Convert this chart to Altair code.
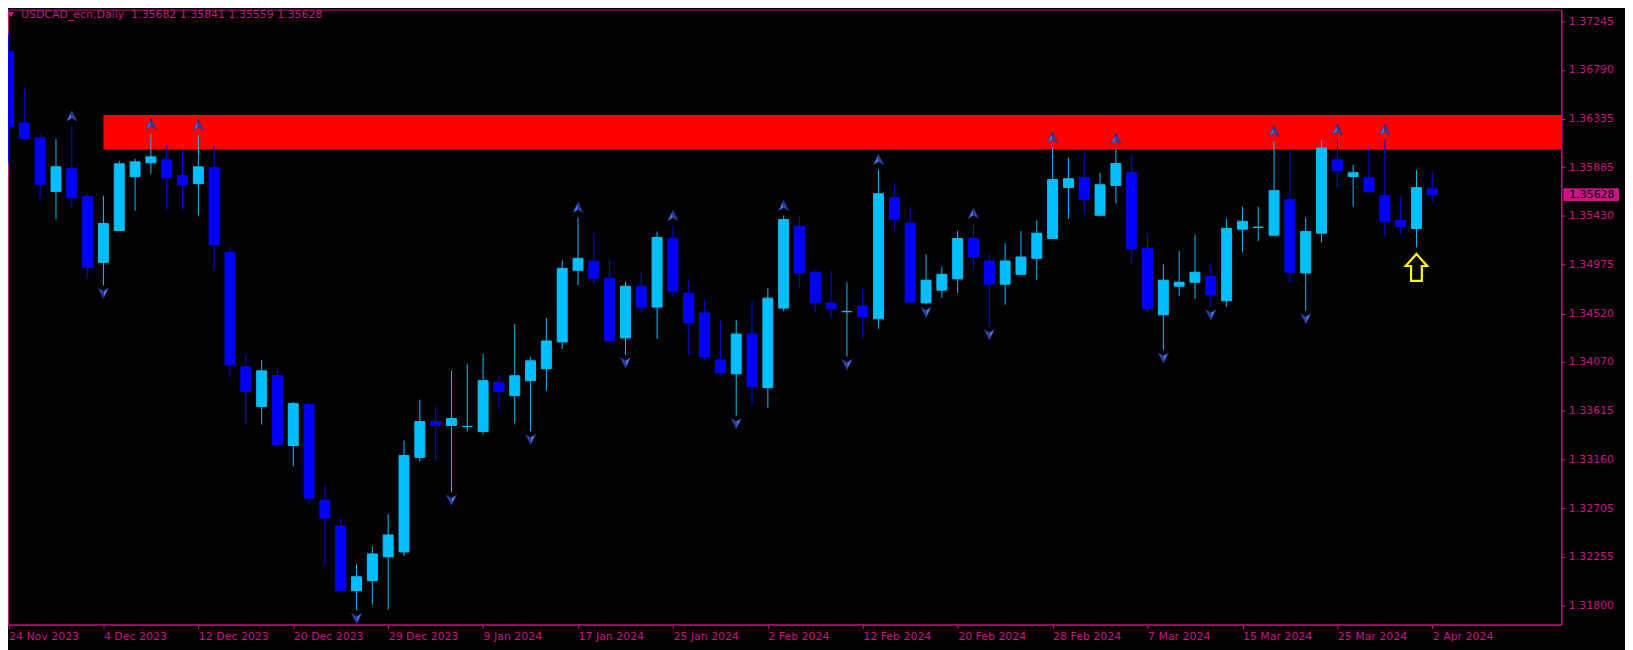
import json
import altair as alt
import pandas as pd

symbol = "USDCAD_ecn"
timeframe = "Daily"

tick_labels = ["24 Nov 2023", "4 Dec 2023", "12 Dec 2023", "20 Dec 2023", "29 Dec 2023",
               "9 Jan 2024", "17 Jan 2024", "25 Jan 2024", "2 Feb 2024", "12 Feb 2024",
               "20 Feb 2024", "28 Feb 2024", "7 Mar 2024", "15 Mar 2024", "25 Mar 2024",
               "2 Apr 2024"]
tick_every = 6

price_ticks = [1.31800, 1.32255, 1.32705, 1.33160, 1.33615, 1.34070, 1.34520,
               1.34975, 1.35430, 1.35885, 1.36335, 1.36790, 1.37245]

opens = [1.36962, 1.36295, 1.36156, 1.35658, 1.35869, 1.35609, 1.34997, 1.35294, 1.35795, 1.35924,
         1.35952, 1.35804, 1.35730, 1.35878, 1.35090, 1.34024, 1.33654, 1.33941, 1.33292, 1.33672,
         1.32782, 1.32541, 1.31939, 1.32032, 1.32254, 1.32300, 1.33181, 1.33515, 1.33478, 1.33468,
         1.33422, 1.33876, 1.33756, 1.33895, 1.34006, 1.34256, 1.34923, 1.35007, 1.34849, 1.34293,
         1.34775, 1.34580, 1.35220, 1.34710, 1.34525, 1.34089, 1.33959, 1.34330, 1.33830, 1.34571,
         1.35331, 1.34905, 1.34617, 1.34537, 1.34590, 1.34472, 1.35600, 1.35362, 1.34620, 1.34738,
         1.34843, 1.35220, 1.35010, 1.34794, 1.34886, 1.35035, 1.35220, 1.35695, 1.35788, 1.35436,
         1.35714, 1.35832, 1.35127, 1.34509, 1.34775, 1.34812, 1.34868, 1.34639, 1.35306, 1.35323,
         1.35250, 1.35581, 1.34898, 1.35269, 1.35952, 1.35797, 1.35785, 1.35618, 1.35387, 1.35313,
         1.35682]
highs = [1.37120, 1.36613, 1.36193, 1.36147, 1.36267, 1.35637, 1.35618, 1.35943, 1.35961, 1.36193,
         1.36091, 1.36045, 1.36184, 1.36082, 1.35146, 1.34145, 1.34089, 1.33997, 1.33700, 1.33691,
         1.32921, 1.32616, 1.32189, 1.32347, 1.32653, 1.33339, 1.33718, 1.33654, 1.33987, 1.34052,
         1.34145, 1.33941, 1.34423, 1.34117, 1.34478, 1.35016, 1.35415, 1.35266, 1.35016, 1.34821,
         1.34914, 1.35285, 1.35340, 1.34831, 1.34645, 1.34460, 1.34460, 1.34636, 1.34756, 1.35433,
         1.35433, 1.34923, 1.34923, 1.34812, 1.34750, 1.35862, 1.35720, 1.35516, 1.35072, 1.34960,
         1.35294, 1.35362, 1.35072, 1.35176, 1.35288, 1.35387, 1.36066, 1.35973, 1.36017, 1.35832,
         1.36054, 1.35998, 1.35257, 1.34979, 1.35102, 1.35257, 1.34979, 1.35405, 1.35516, 1.35516,
         1.36128, 1.36048, 1.35415, 1.36140, 1.36140, 1.35906, 1.36073, 1.36140, 1.35609, 1.35859,
         1.35841]
lows = [1.35924, 1.36133, 1.35593, 1.35399, 1.35507, 1.34858, 1.34784, 1.35290, 1.35479, 1.35822,
        1.35489, 1.35489, 1.35433, 1.34933, 1.33932, 1.33487, 1.33487, 1.33295, 1.33098, 1.32745,
        1.32171, 1.31930, 1.31754, 1.31809, 1.31763, 1.32263, 1.33144, 1.33153, 1.32857, 1.33422,
        1.33394, 1.33635, 1.33496, 1.33422, 1.33802, 1.34191, 1.34784, 1.34794, 1.34260, 1.34136,
        1.34525, 1.34284, 1.34673, 1.34126, 1.34080, 1.33941, 1.33570, 1.33663, 1.33644, 1.34543,
        1.34750, 1.34537, 1.34472, 1.34120, 1.34287, 1.34379, 1.35294, 1.34620, 1.34605, 1.34667,
        1.34713, 1.34923, 1.34398, 1.34602, 1.34880, 1.34831, 1.35215, 1.35399, 1.35442, 1.35430,
        1.35547, 1.34979, 1.34534, 1.34182, 1.34682, 1.34657, 1.34583, 1.34583, 1.35090, 1.35195,
        1.35245, 1.34806, 1.34546, 1.35186, 1.35695, 1.35516, 1.35640, 1.35238, 1.35257, 1.35136,
        1.35559]
closes = [1.36258, 1.36150, 1.35725, 1.35887, 1.35600, 1.34951, 1.35359, 1.35915, 1.35934, 1.35980,
          1.35785, 1.35720, 1.35887, 1.35164, 1.34043, 1.33793, 1.33987, 1.33301, 1.33681, 1.32801,
          1.32616, 1.31939, 1.32069, 1.32282, 1.32458, 1.33199, 1.33515, 1.33478, 1.33542, 1.33470,
          1.33895, 1.33793, 1.33941, 1.34080, 1.34265, 1.34942, 1.35035, 1.34849, 1.34265, 1.34775,
          1.34580, 1.35229, 1.34729, 1.34432, 1.34117, 1.33969, 1.34330, 1.33839, 1.34664, 1.35396,
          1.34898, 1.34620, 1.34565, 1.34540, 1.34490, 1.35637, 1.35399, 1.34627, 1.34831, 1.34886,
          1.35220, 1.35047, 1.34794, 1.35010, 1.35047, 1.35269, 1.35769, 1.35776, 1.35584, 1.35720,
          1.35918, 1.35121, 1.34565, 1.34831, 1.34812, 1.34905, 1.34694, 1.35313, 1.35380, 1.35325,
          1.35665, 1.34905, 1.35285, 1.36063, 1.35850, 1.35832, 1.35658, 1.35380, 1.35331, 1.35693,
          1.35628]

up_fractals = [4, 9, 12, 36, 42, 49, 55, 61, 66, 70, 80, 84, 87]
down_fractals = [6, 22, 28, 33, 39, 46, 53, 58, 62, 73, 76, 82]
signal_bars = [89]

zone_start = 6
zone_low = 1.36048
zone_high = 1.36369

MAG = "#C71585"
BULL = "#00BFFF"
BEAR = "#0000FF"
FONT = "DejaVu Sans"
FS = 11
W, H = 1561, 618

n = len(opens)
df = pd.DataFrame({"i": list(range(n)), "open": opens, "high": highs, "low": lows, "close": closes})
df["col"] = [BULL if c >= o else BEAR for o, c in zip(opens, closes)]

xscale = alt.Scale(domain=[0.28125, 97.84375], nice=False, zero=False)
yscale = alt.Scale(domain=[1.316239, 1.373516], nice=False, zero=False)

label_expr = json.dumps(tick_labels) + "[round(datum.value/" + str(tick_every) + ")]"
xaxis = alt.Axis(values=list(range(0, tick_every * len(tick_labels), tick_every)), labelExpr=label_expr,
                 title=None, grid=False, domainColor=MAG, tickColor=MAG, tickSize=4,
                 labelColor=MAG, labelFont=FONT, labelFontSize=FS, labelAlign="left",
                 labelBaseline="top", labelPadding=2, labelOverlap=False, labelBound=False,
                 labelFlush=False)
yaxis = alt.Axis(values=price_ticks, format=".5f", orient="right", title=None, grid=False,
                 domainColor=MAG, tickColor=MAG, tickSize=4, labelColor=MAG, labelFont=FONT,
                 labelFontSize=FS, labelAlign="left", labelBaseline="middle", labelPadding=3,
                 labelOverlap=False, labelBound=False, labelFlush=False)


def X(field):
    return alt.X(field, scale=xscale, axis=xaxis)


def Y(field):
    return alt.Y(field, scale=yscale, axis=yaxis)


base = alt.Chart(df)

zone_df = pd.DataFrame({"x": [zone_start], "lo": [zone_low], "hi": [zone_high]})
zone = alt.Chart(zone_df).mark_rect(color="#FF0000", clip=True).encode(
    x=X("x:Q"),
    x2=alt.value(W),
    y=Y("lo:Q"),
    y2="hi:Q",
)

wicks = base.mark_rule(strokeWidth=1, clip=True).encode(
    x=X("i:Q"),
    y=Y("low:Q"),
    y2="high:Q",
    color=alt.Color("col:N", scale=None),
)

bodies = base.mark_bar(size=10, strokeWidth=1, clip=True).encode(
    x=X("i:Q"),
    y=Y("open:Q"),
    y2="close:Q",
    color=alt.Color("col:N", scale=None),
    stroke=alt.Stroke("col:N", scale=None),
)

up_df = df[df["i"].isin(up_fractals)]
dn_df = df[df["i"].isin(down_fractals)]
sig_df = df[df["i"].isin(signal_bars)]


def arrow(data, field, path, fill, offset):
    return alt.Chart(data).mark_point(shape=path, size=110, filled=True, fill=fill,
                                      stroke="#1b2a6e", strokeWidth=0.6, opacity=1,
                                      yOffset=offset, clip=True).encode(
        x=X("i:Q"),
        y=Y(field + ":Q"),
    )


up_l = arrow(up_df, "high", "M0,-1L0,0.4L-1,1Z", "#4a78f0", -10)
up_r = arrow(up_df, "high", "M0,-1L1,1L0,0.4Z", "#2b44b0", -10)
dn_l = arrow(dn_df, "low", "M0,1L0,-0.4L-1,-1Z", "#2b44b0", 8)
dn_r = arrow(dn_df, "low", "M0,1L1,-1L0,-0.4Z", "#4a78f0", 8)

signal = alt.Chart(sig_df).mark_point(
    shape="M0,-1L0.8,-0.1L0.4,-0.1L0.4,1L-0.4,1L-0.4,-0.1L-0.8,-0.1Z",
    size=729, filled=False, stroke="#FFFF00", strokeWidth=2.2, opacity=1, yOffset=20,
    clip=True).encode(
    x=X("i:Q"),
    y=Y("low:Q"),
)

last = df.iloc[[-1]]
header = (symbol + "," + timeframe + "\u00a0\u00a0" +
          " ".join(f"{v:.5f}" for v in [opens[-1], highs[-1], lows[-1], closes[-1]]))
head_df = pd.DataFrame({"t": [header]})
head_text = alt.Chart(head_df).mark_text(align="left", baseline="middle", color=MAG,
                                         font=FONT, fontSize=FS).encode(
    x=alt.value(13), y=alt.value(5), text="t:N")
head_tri = alt.Chart(head_df).mark_point(shape="triangle-down", filled=True, color=MAG,
                                         size=36, opacity=1).encode(
    x=alt.value(3), y=alt.value(5))

price_box = alt.Chart(last).mark_rule(color=MAG, strokeWidth=13, strokeCap="butt").encode(
    x=alt.value(W + 2), x2=alt.value(W + 58),
    y=Y("close:Q"),
)
price_txt = alt.Chart(last).mark_text(align="left", baseline="middle", color="black",
                                      font=FONT, fontSize=FS).encode(
    x=alt.value(W + 8),
    y=Y("close:Q"),
    text=alt.Text("close:Q", format=".5f"),
)

chart = alt.layer(zone, wicks, bodies, up_l, up_r, dn_l, dn_r, signal,
                  head_tri, head_text, price_box, price_txt).properties(
    width=W, height=H,
    autosize=alt.AutoSizeParams(type="none"),
    padding={"left": 0, "top": 0, "right": 64, "bottom": 24},
).configure(background="black").configure_view(stroke=MAG, strokeWidth=1, fill="black")

chart.save("out.html", embed_options={"renderer": "svg", "actions": False})
